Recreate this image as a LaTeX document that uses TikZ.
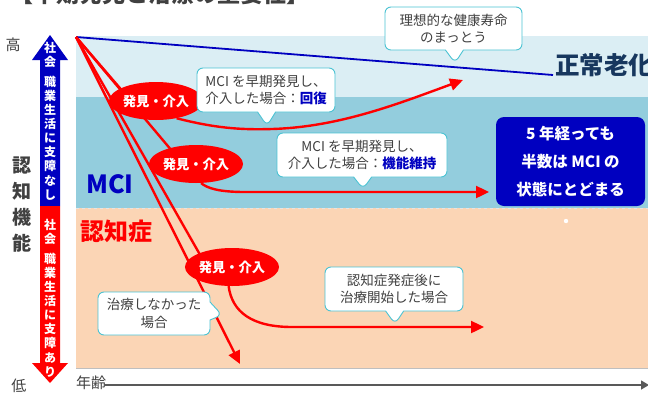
\documentclass[tikz,border=0pt]{standalone}
\usepackage{fontspec}
\setmainfont{Noto Sans CJK JP}
\usetikzlibrary{shapes.geometric,shapes.callouts,arrows.meta}
\definecolor{bandA}{HTML}{DBEEF4}
\definecolor{bandB}{HTML}{93CDDD}
\definecolor{bandC}{HTML}{FBD5B5}
\definecolor{dblue}{HTML}{0000C0}
\definecolor{navy}{HTML}{17375E}
\definecolor{txt}{HTML}{404040}
\definecolor{cyanb}{HTML}{4BC3D3}
\tikzset{
  redln/.style={red, line width=2.4pt},
  redarr/.style={redln, -{Triangle[length=13pt,width=12pt]}},
  ellip/.style={ellipse, fill=red, text=white, font=\bfseries\fontsize{13.3}{15}\selectfont, minimum width=79pt, minimum height=38pt, inner sep=0pt},
  call/.style={rectangle callout, draw=cyanb, line width=0.9pt, fill=white, rounded corners=6pt, text=txt, align=center, font=\fontsize{13.5}{17.5}\selectfont, inner sep=0pt, callout pointer width=18pt},
  vstack/.style={text=white, align=center, font=\bfseries\fontsize{12}{14.1}\selectfont, inner sep=0pt},
}
\begin{document}
\begin{tikzpicture}[x=1pt,y=-1pt]
\useasboundingbox (0,0) rectangle (648,394);
\clip (0,0) rectangle (648,394);
% title (clipped at the top edge, as in the reference)
\node[text=txt, font=\bfseries\fontsize{23}{25}\selectfont] (title) at (160,-6) {【早期発見と治療の重要性】};
% bands
\fill[bandA] (76,36) rectangle (648,97);
\fill[bandB] (76,97) rectangle (648,208);
\fill[bandC] (76,208) rectangle (648,368);
\draw[white!80!gray, dashed, line width=0.5pt] (76,208) -- (648,208);
\draw[gray!50, line width=0.8pt] (76,368) -- (648,368);
\fill[white] (566,221) circle (2.2pt);
% left axis labels
\node[text=txt, font=\fontsize{15}{17}\selectfont] (hi) at (13,45) {高};
\node[text=txt, font=\fontsize{15}{17}\selectfont] (lo) at (19,386) {低};
\node[text=txt, align=center, font=\bfseries\fontsize{19}{26}\selectfont, inner sep=0pt] (cf) at (22,205) {認\\知\\機\\能};
% double arrow
\fill[dblue] (50,35) -- (68,60) -- (60,60) -- (60,206) -- (40,206) -- (40,60) -- (32,60) -- cycle;
\fill[red] (40,206) -- (60,206) -- (60,363) -- (68,363) -- (50,383) -- (32,363) -- (40,363) -- cycle;
\node[vstack] (up) at (50,121) {社\\会\\[6pt]職\\業\\生\\活\\に\\支\\障\\な\\し};
\node[vstack] (dn) at (50,298) {社\\会\\[6pt]職\\業\\生\\活\\に\\支\\障\\あ\\り};
% x axis
\node[text=txt, font=\fontsize{15}{17}\selectfont, anchor=west, inner sep=0pt] (age) at (76,383) {年齢};
\coordinate (xs) at (104,385);
\coordinate (xe) at (648,385);
\draw[gray!70!black, line width=1.4pt, -{Triangle[length=8pt,width=9pt]}, shorten >=-1pt] (xs) -- (xe);
% region labels
\node[text=dblue, font=\bfseries\fontsize{25}{27}\selectfont] (mci) at (110,184) {MCI};
\node[text=red, font=\bfseries\fontsize{24}{26}\selectfont] (dem) at (116,231) {認知症};
% lines
\coordinate (O) at (76,37);
\coordinate (B) at (553,75);
\draw[dblue, line width=1.8pt] (O) -- (B);
\node[text=navy, font=\bfseries\fontsize{24.5}{26}\selectfont, anchor=west, inner sep=0pt] (norm) at (555,65) {正常老化};
\coordinate (a1) at (131,101);
\coordinate (a2) at (183,164);
\coordinate (a3) at (207,267);
\coordinate (t1) at (463,80);
\coordinate (t2) at (489,192);
\coordinate (t3) at (484,327);
\coordinate (t4) at (240,364);
\draw[redln] (O) -- (a1);
\draw[redln] (O) -- (a2);
\draw[redln] (O) -- (a3);
\draw[redarr] (O) -- (t4);
\node[ellip] (e1) at (156,101) {発見・介入};
\node[ellip] (e2) at (196,164) {発見・介入};
\node[ellip] (e3) at (232,267) {発見・介入};
\draw[redarr] (e1.-40) .. controls (215,128) and (240,130) .. (272,129) .. controls (340,127) and (400,103) .. (t1);
\draw[redarr] (e2.-75) .. controls (207,188) and (218,192) .. (245,192) -- (t2);
\draw[redarr] (e3.-100) .. controls (232,312) and (252,327) .. (292,327) -- (t3);
% blue box
\node[fill=dblue, rounded corners=8pt, minimum width=149pt, minimum height=89pt, text=white, align=center, font=\bfseries\fontsize{15.5}{28}\selectfont, inner sep=0pt] (box) at (570.5,161.5) {5 年経っても\\半数は MCI の\\状態にとどまる};
% callouts
\node[call, minimum width=137pt, minimum height=43pt, callout absolute pointer={(455,63)}] (c1) at (453.5,28.5) {理想的な健康寿命\\のまっとう};
\node[call, minimum width=138pt, minimum height=44pt, callout absolute pointer={(267,126)}] (c2) at (266,90) {MCI を早期発見し、\\介入した場合：{\bfseries\color{dblue}回復}};
\node[call, minimum width=170pt, minimum height=44pt, callout absolute pointer={(363,189)}] (c3) at (362,155) {MCI を早期発見し、\\介入した場合：{\bfseries\color{dblue}機能維持}};
\node[call, minimum width=112pt, minimum height=43pt, callout absolute pointer={(222,315)}] (c4) at (154,313.5) {治療しなかった\\場合};
\node[call, minimum width=138pt, minimum height=44pt, callout absolute pointer={(395,324)}] (c5) at (394,289) {認知症発症後に\\治療開始した場合};
\end{tikzpicture}
\end{document}
